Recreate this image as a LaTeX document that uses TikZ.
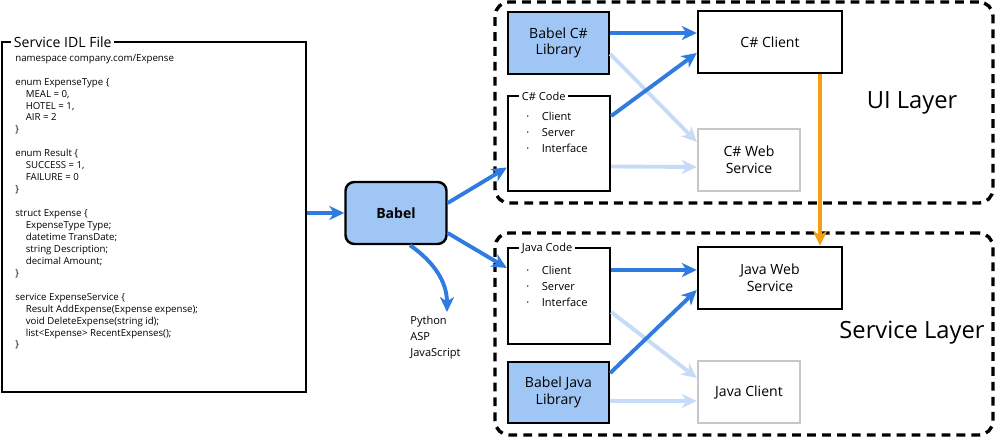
\documentclass[tikz,border=0pt]{standalone}
\usepackage{fontspec}
\setmainfont{Open Sans}
\usepackage{tikz}
\usetikzlibrary{arrows.meta, positioning, calc}

\definecolor{babelblue}{RGB}{160,198,246}
\definecolor{arrowblue}{RGB}{47,123,224}
\definecolor{fadeblue}{RGB}{198,219,248}
\definecolor{uplink}{RGB}{245,158,15}

\begin{document}
\begin{tikzpicture}[
    x=0.02cm, y=-0.02cm,
    font=\fontsize{8}{9.5}\selectfont,
    >={Stealth[length=8.5pt, width=8pt, inset=2.5pt]},
    filebox/.style={draw=black, line width=1.4pt, fill=white, minimum width=6.08cm, minimum height=7cm},
    babelbox/.style={draw=black, line width=1.4pt, fill=babelblue, rounded corners=5pt, minimum width=2.02cm, minimum height=1.24cm, font=\fontsize{8}{9.5}\selectfont\bfseries},
    libbox/.style={draw=black, line width=1.4pt, fill=babelblue, minimum width=2.02cm, minimum height=1.24cm, align=center},
    codebox/.style={draw=black, line width=1.4pt, fill=white, minimum width=2.04cm, minimum height=1.9cm},
    appbox/.style={draw=black, line width=1.4pt, fill=white, minimum width=2.88cm, minimum height=1.24cm, align=center},
    offbox/.style={draw=black!22, line width=1.4pt, fill=white, minimum width=2.04cm, minimum height=1.24cm, align=center},
    layerbox/.style={draw=black, line width=1.9pt, dash pattern=on 5pt off 3.5pt, rounded corners=8pt, minimum width=9.96cm, minimum height=4.02cm},
    boxtitle/.style={fill=white, inner sep=1.5pt, anchor=west},
    layerlabel/.style={font=\fontsize{13.5}{15}\selectfont},
    main/.style={->, line width=2.2pt, arrowblue},
    faded/.style={->, line width=2.2pt, fadeblue},
    crossing/.style={->, line width=2.2pt, uplink}
]
\useasboundingbox (0,0) rectangle (996,439);

% source file
\node[filebox] (idl) at (154,217) {};
\node[boxtitle, font=\fontsize{8}{9.5}\selectfont] (idltitle) at (11,42) {Service IDL File};
\node[anchor=north west, align=left, inner sep=0pt, font=\fontsize{5.5}{6.8}\selectfont] (idltext) at (15,54) {%
namespace company.com/Expense\\ \mbox{}\\
enum ExpenseType \{\\
\hspace{2.1mm}MEAL = 0,\\
\hspace{2.1mm}HOTEL = 1,\\
\hspace{2.1mm}AIR = 2\\
\}\\ \mbox{}\\
enum Result \{\\
\hspace{2.1mm}SUCCESS = 1,\\
\hspace{2.1mm}FAILURE = 0\\
\}\\ \mbox{}\\
struct Expense \{\\
\hspace{2.1mm}ExpenseType Type;\\
\hspace{2.1mm}datetime TransDate;\\
\hspace{2.1mm}string Description;\\
\hspace{2.1mm}decimal Amount;\\
\}\\ \mbox{}\\
service ExpenseService \{\\
\hspace{2.1mm}Result AddExpense(Expense expense);\\
\hspace{2.1mm}void DeleteExpense(string id);\\
\hspace{2.1mm}list<Expense> RecentExpenses();\\
\}};

% generator
\node[babelbox] (babel) at (396,213) {Babel};
\node[anchor=north west, align=left, inner sep=0pt, font=\fontsize{6.3}{9}\selectfont] (others) at (410,316) {Python\\ASP\\JavaScript};
\coordinate (othersin) at (447,312);

% layers
\node[layerbox] (uilayer) at (744,102.5) {};
\node[layerbox, minimum height=4.04cm] (svclayer) at (744,334) {};
\node[layerlabel] (uilabel) at (912,103) {UI Layer};
\node[layerlabel] (svclabel) at (912,333) {Service Layer};

% UI layer
\node[libbox] (babelcs) at (558.5,43) {Babel C\#\\Library};
\node[codebox] (cscode) at (559,143.5) {};
\node[boxtitle, font=\fontsize{6.3}{7.5}\selectfont] (cstitle) at (519,96) {C\# Code};
\node[anchor=north west, align=left, inner sep=0pt, font=\fontsize{6.3}{9}\selectfont] (csitems) at (526,112) {%
\textperiodcentered\hspace{2.5mm}Client\\
\textperiodcentered\hspace{2.5mm}Server\\
\textperiodcentered\hspace{2.5mm}Interface};
\node[appbox] (csclient) at (770,42) {C\# Client};
\node[offbox] (cswebsvc) at (749,160) {C\# Web\\Service};

% service layer
\node[codebox, minimum height=1.92cm] (javacode) at (559,296) {};
\node[boxtitle, font=\fontsize{6.3}{7.5}\selectfont] (javatitle) at (519,248) {Java Code};
\node[anchor=north west, align=left, inner sep=0pt, font=\fontsize{6.3}{9}\selectfont] (javaitems) at (526,266) {%
\textperiodcentered\hspace{2.5mm}Client\\
\textperiodcentered\hspace{2.5mm}Server\\
\textperiodcentered\hspace{2.5mm}Interface};
\node[appbox] (javawebsvc) at (770,278) {Java Web\\Service};
\node[libbox, minimum height=1.22cm] (babeljava) at (558.5,392.5) {Babel Java\\Library};
\node[offbox] (javaclient) at (749,392) {Java Client};

% connectors
\draw[main] (idl.east |- babel.west) -- (babel.west);
\draw[main] ([xshift=0.28cm]babel.south) to[out=-35, in=90] (othersin);
\draw[main] ([yshift=0.2cm]babel.east) -- ([yshift=-0.48cm]cscode.west);
\draw[main] ([yshift=-0.4cm]babel.east) -- ([yshift=0.56cm]javacode.west);

\draw[faded] ([yshift=-0.22cm]babelcs.east) -- ([yshift=0.36cm]cswebsvc.west);
\draw[faded] ([yshift=-0.46cm]cscode.east) -- ([yshift=-0.14cm]cswebsvc.west);
\draw[main] ([yshift=0.2cm]babelcs.east) -- ([yshift=0.18cm]csclient.west);
\draw[main] ([yshift=0.55cm]cscode.east) -- ([yshift=-0.22cm]csclient.west);

\draw[faded] ([yshift=-0.32cm]javacode.east) -- ([yshift=0.28cm]javaclient.west);
\draw[faded] ([yshift=-0.17cm]babeljava.east) -- ([yshift=-0.18cm]javaclient.west);
\draw[main] ([yshift=0.52cm]javacode.east) -- ([yshift=0.16cm]javawebsvc.west);
\draw[main] ([yshift=0.39cm]babeljava.east) -- ([yshift=-0.24cm]javawebsvc.west);

\draw[crossing] ([xshift=1cm]csclient.south) -- ([xshift=1cm]javawebsvc.north);

\end{tikzpicture}
\end{document}
